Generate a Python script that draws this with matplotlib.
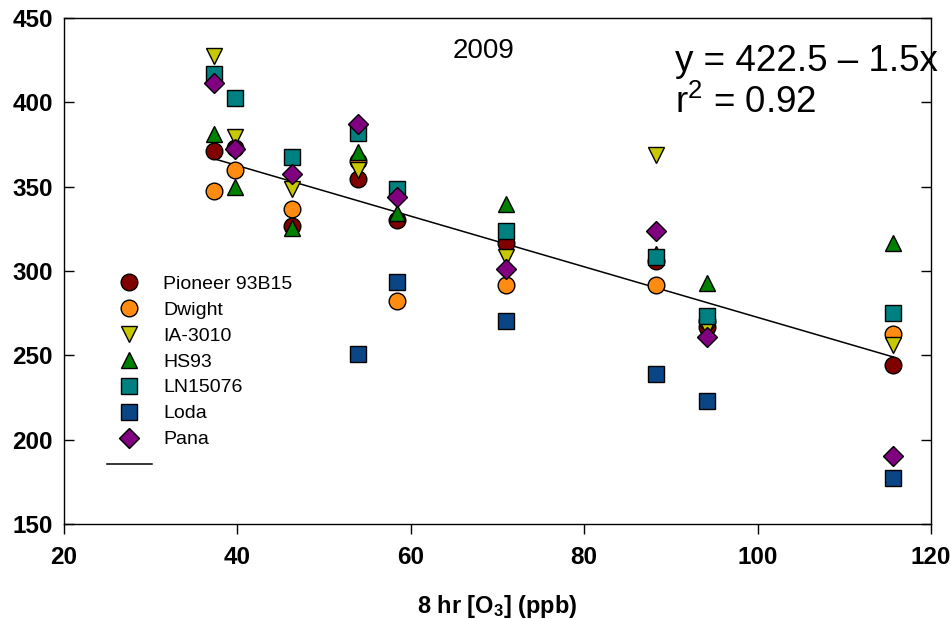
import numpy as np
import matplotlib
matplotlib.use("Agg")
from matplotlib import pyplot as plt

plt.rcParams['font.family'] = ['Liberation Sans', 'DejaVu Sans']
plt.rcParams['mathtext.default'] = 'regular'

# ozone levels (ppb)
ozone = [37.3, 39.7, 46.3, 53.9, 58.4, 71.0, 88.3, 94.2, 115.65]

nan = np.nan
pioneer = [371.1, 372.7, 326.5, 354.3, 330.5, 316.5, 305.9, 267.0, 244.2]
dwight = [347.6, 359.6, 336.9, 365.0, 282.3, 291.8, 291.8, 270.5, 262.4]
ia3010 = [427.5, 379.6, 348.8, 359.8, 348.0, 308.3, 368.7, 266.0, 256.0]
hs93 = [381.2, 350.0, 325.2, 370.7, 334.2, 339.7, 309.8, 293.0, 316.4]
ln15076 = [417.0, 402.4, 367.7, 382.0, 348.6, 323.8, 308.4, 273.4, 275.0]
loda = [nan, nan, nan, 250.9, 293.4, 270.1, 238.9, 223.0, 177.4]
pana = [411.6, 372.3, 357.6, 386.9, 344.0, 301.3, 323.5, 260.8, 190.4]

cultivars = ['Pioneer 93B15', 'Dwight', 'IA-3010', 'HS93', 'LN15076', 'Loda', 'Pana']
yields = [pioneer, dwight, ia3010, hs93, ln15076, loda, pana]

# regression: y = 422.5 - 1.5x, r^2 = 0.92
fit_intercept = 422.5
fit_slope = -1.5
fit_r2 = 0.92

markers = ['o', 'o', 'v', '^', 's', 's', 'D']
sizes = [12, 12, 12, 12, 11, 11, 10]
colors = ['#800000', '#ff8c10', '#c8c800', '#008000', '#008080', '#0a4686', '#800080']

fig = plt.figure(figsize=(9.51, 6.19), dpi=100)
ax = fig.add_axes([64 / 951, 1 - 524 / 619, 867 / 951, 506 / 619])

handles = []
for name, vals, mk, ms, col in zip(cultivars, yields, markers, sizes, colors):
    h, = ax.plot(ozone, vals, linestyle='none', marker=mk, markersize=ms,
                 markerfacecolor=col, markeredgecolor='black',
                 markeredgewidth=1.0, label=name, zorder=3)
    handles.append(h)

fit_x = np.array([min(ozone), max(ozone)])
fit_line, = ax.plot(fit_x, fit_intercept + fit_slope * fit_x, color='black',
                    linewidth=1.1, zorder=2)
handles.append(fit_line)

ax.legend(handles, cultivars + [''], loc='upper left',
          bbox_to_anchor=((107 - 64) / 867, (524 - 275) / 506),
          frameon=False, fontsize=14, borderpad=0, borderaxespad=0,
          handlelength=2.3, handletextpad=0.6, labelspacing=0.43,
          numpoints=1)

ax.set_xlim(20, 120)
ax.set_ylim(150, 450)
ax.set_xticks(np.arange(20, 121, 20))
ax.set_yticks(np.arange(150, 451, 50))

for side in ['left', 'right', 'top', 'bottom']:
    ax.spines[side].set_linewidth(1.0)

ax.tick_params(axis='x', direction='out', length=7, width=1.0, pad=9,
               labelsize=17.5)
ax.tick_params(axis='y', direction='in', length=7, width=1.0, pad=8,
               labelsize=17.5, right=True)
for lab in ax.get_xticklabels() + ax.get_yticklabels():
    lab.set_fontweight('bold')

ax.set_xlabel('8 hr [O$_\\mathregular{3}$] (ppb)', fontsize=17,
              fontweight='bold', labelpad=17)

ax.text(68.4, 430.5, '2009', fontsize=20, ha='center', va='center')
ax.text((675 - 64) / 867, (524 - 71) / 506,
        'y = {} \u2013 {}x'.format(fit_intercept, -fit_slope),
        transform=ax.transAxes, fontsize=26.5, va='baseline', ha='left')
ax.text((675 - 64) / 867, (524 - 113) / 506,
        'r$^{2}$ = ' + '{}'.format(fit_r2),
        transform=ax.transAxes, fontsize=26.5, va='baseline', ha='left')

fig.savefig('out.png', dpi=100)
